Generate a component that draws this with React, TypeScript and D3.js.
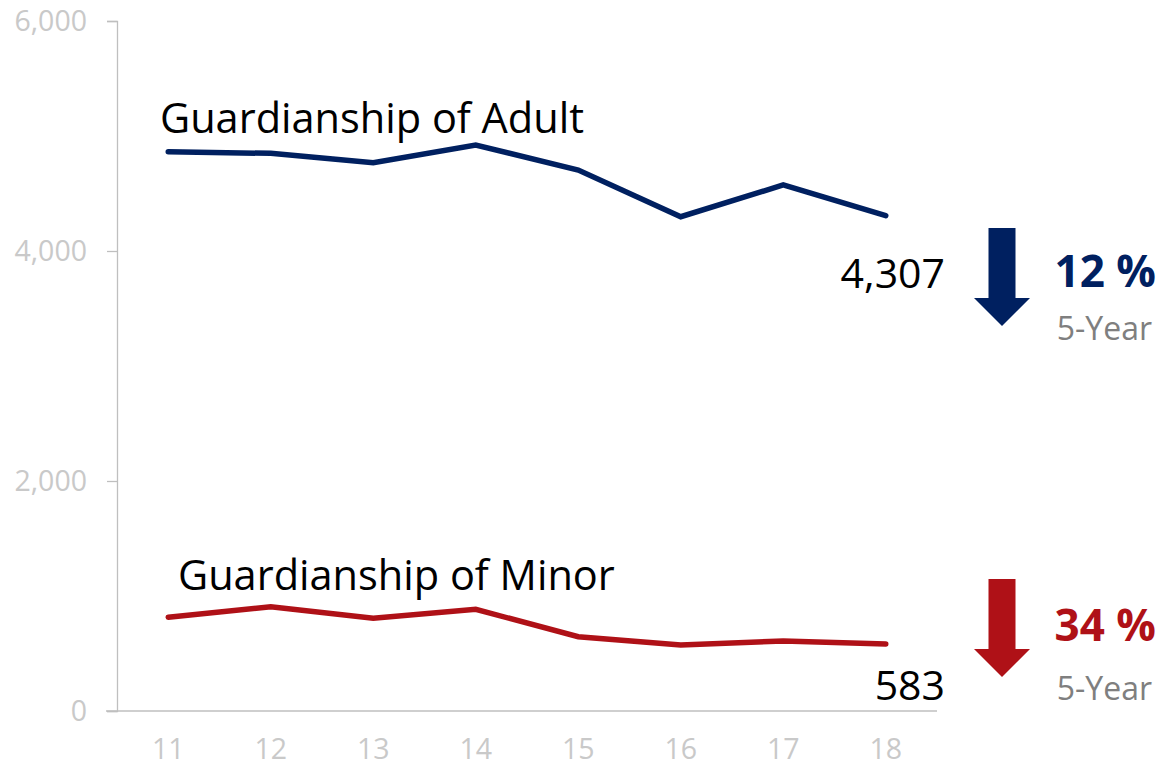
import { useEffect, useRef } from 'react'
import * as d3 from 'd3'

// fiscal years on the x axis
const years = ['11', '12', '13', '14', '15', '16', '17', '18']
const adult = [4863, 4849, 4768, 4922, 4704, 4298, 4574, 4307]
const minor = [815, 907, 806, 884, 646, 574, 609, 583]
const yTicks = [0, 2000, 4000, 6000]

const seriesList = [
  { name: 'Guardianship of Adult', values: adult, color: '#002060', change: '12 %' },
  { name: 'Guardianship of Minor', values: minor, color: '#AF1117', change: '34 %' },
]

const FONT = "'Open Sans', sans-serif"

export default function App() {
  const svgRef = useRef<SVGSVGElement | null>(null)
  const width = 1163
  const height = 767

  useEffect(() => {
    const el = svgRef.current
    if (!el) return

    const left = 117, right = 937, top = 21, bottom = 711

    const x = d3.scaleBand<string>().domain(years).range([left, right])
    const y = d3.scaleLinear().domain([0, 6000]).range([bottom, top])
    const cx = (d: string) => (x(d) ?? 0) + x.bandwidth() / 2

    const svg = d3.select(el)
    svg.selectAll('*').remove()

    // Y axis
    svg.append('g')
      .attr('transform', `translate(${left},0)`)
      .call(d3.axisLeft(y).tickValues(yTicks).tickFormat(d3.format(',')).tickSize(10).tickPadding(20))
      .call(ax => ax.select('.domain').attr('stroke', '#bfbfbf').attr('stroke-width', 1.3))
      .call(ax => ax.selectAll('.tick line').attr('stroke', '#bfbfbf').attr('stroke-width', 1.3))
      .call(ax => ax.selectAll('text')
        .attr('fill', '#c9c9c9')
        .attr('font-family', FONT)
        .attr('font-size', '28.5px'))

    // X axis
    svg.append('g')
      .attr('transform', `translate(0,${bottom})`)
      .call(d3.axisBottom(x).tickSize(0).tickPadding(28))
      .call(ax => ax.select('.domain').attr('stroke', '#bfbfbf').attr('stroke-width', 1.3)
        .attr('d', `M${left - 11},0H${right}`))
      .call(ax => ax.selectAll('text')
        .attr('fill', '#c9c9c9')
        .attr('font-family', FONT)
        .attr('font-size', '28.5px'))

    const line = d3.line<number>()
      .x((_, i) => cx(years[i]))
      .y(v => y(v))

    seriesList.forEach((s, k) => {
      svg.append('path')
        .datum(s.values)
        .attr('d', line)
        .attr('fill', 'none')
        .attr('stroke', s.color)
        .attr('stroke-width', 5.5)
        .attr('stroke-linecap', 'round')
        .attr('stroke-linejoin', 'miter')

      const last = s.values[s.values.length - 1]
      const first = s.values[0]

      // series name above the first point
      svg.append('text')
        .attr('x', k === 0 ? 160 : 178)
        .attr('y', y(first) + (k === 0 ? -19 : -27))
        .attr('font-family', FONT)
        .attr('font-size', '41.5px')
        .attr('fill', '#000')
        .text(s.name)

      // last value label
      svg.append('text')
        .attr('x', 945)
        .attr('y', y(last) + (k === 0 ? 72 : 56))
        .attr('text-anchor', 'end')
        .attr('font-family', FONT)
        .attr('font-size', '41px')
        .attr('fill', '#000')
        .text(d3.format(',')(last))

      // down arrow
      const aTop = k === 0 ? 228 : 579
      const ax0 = 1002
      const shaft = 13.5, head = 28, headLen = 28, len = 98
      const p = d3.path()
      p.moveTo(ax0 - shaft, aTop)
      p.lineTo(ax0 + shaft, aTop)
      p.lineTo(ax0 + shaft, aTop + len - headLen)
      p.lineTo(ax0 + head, aTop + len - headLen)
      p.lineTo(ax0, aTop + len)
      p.lineTo(ax0 - head, aTop + len - headLen)
      p.lineTo(ax0 - shaft, aTop + len - headLen)
      p.closePath()
      svg.append('path').attr('d', p.toString()).attr('fill', s.color)

      svg.append('text')
        .attr('x', 1156)
        .attr('y', k === 0 ? 287 : 641)
        .attr('text-anchor', 'end')
        .attr('font-family', FONT)
        .attr('font-weight', 700)
        .attr('font-size', '44px')
        .attr('fill', s.color)
        .text(s.change)

      svg.append('text')
        .attr('x', 1152)
        .attr('y', k === 0 ? 340 : 700)
        .attr('text-anchor', 'end')
        .attr('font-family', FONT)
        .attr('font-size', '32px')
        .attr('fill', '#7f7f7f')
        .text('5-Year')
    })
  }, [])

  return (
    <svg
      ref={svgRef}
      width={width}
      height={height}
      style={{ position: 'absolute', left: 0, top: 0, display: 'block', background: '#fff' }}
    />
  )
}
